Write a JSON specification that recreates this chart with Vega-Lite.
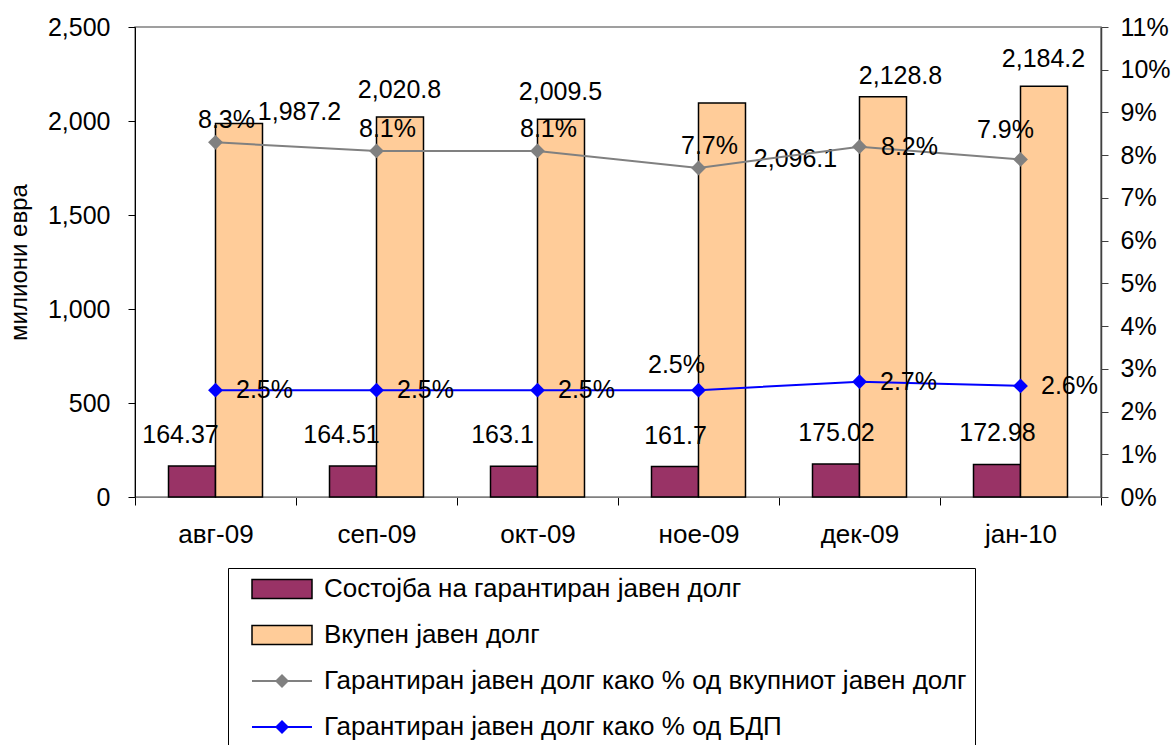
{
  "$schema": "https://vega.github.io/schema/vega-lite/v6.json",
  "width": 966,
  "height": 470,
  "autosize": {"type": "none"},
  "padding": {"left": 135, "top": 27, "right": 74, "bottom": 248},
  "background": "white",
  "config": {
    "font": "Liberation Sans",
    "view": {"stroke": "#808080", "strokeWidth": 1.5},
    "text": {"font": "Liberation Sans", "fontSize": 25, "color": "black"},
    "axis": {"labelFont": "Liberation Sans", "titleFont": "Liberation Sans", "labelColor": "black", "titleColor": "black", "grid": false},
    "legend": {"orient": "none", "direction": "vertical", "padding": 8, "labelFont": "Liberation Sans", "labelFontSize": 26, "labelLimit": 1000, "labelColor": "black", "symbolSize": 400, "symbolOffset": 33, "labelOffset": 29, "rowPadding": 20}
  },
  "data": {
    "values": [
      {"m": "авг-09", "s": "Состојба на гарантиран јавен долг", "v": 164.37},
      {"m": "сеп-09", "s": "Состојба на гарантиран јавен долг", "v": 164.51},
      {"m": "окт-09", "s": "Состојба на гарантиран јавен долг", "v": 163.1},
      {"m": "ное-09", "s": "Состојба на гарантиран јавен долг", "v": 161.7},
      {"m": "дек-09", "s": "Состојба на гарантиран јавен долг", "v": 175.02},
      {"m": "јан-10", "s": "Состојба на гарантиран јавен долг", "v": 172.98},
      {"m": "авг-09", "s": "Вкупен јавен долг", "v": 1987.2},
      {"m": "сеп-09", "s": "Вкупен јавен долг", "v": 2020.8},
      {"m": "окт-09", "s": "Вкупен јавен долг", "v": 2009.5},
      {"m": "ное-09", "s": "Вкупен јавен долг", "v": 2096.1},
      {"m": "дек-09", "s": "Вкупен јавен долг", "v": 2128.8},
      {"m": "јан-10", "s": "Вкупен јавен долг", "v": 2184.2},
      {"m": "авг-09", "s": "Гарантиран јавен долг како % од вкупниот јавен долг", "v": 0.083},
      {"m": "сеп-09", "s": "Гарантиран јавен долг како % од вкупниот јавен долг", "v": 0.081},
      {"m": "окт-09", "s": "Гарантиран јавен долг како % од вкупниот јавен долг", "v": 0.081},
      {"m": "ное-09", "s": "Гарантиран јавен долг како % од вкупниот јавен долг", "v": 0.077},
      {"m": "дек-09", "s": "Гарантиран јавен долг како % од вкупниот јавен долг", "v": 0.082},
      {"m": "јан-10", "s": "Гарантиран јавен долг како % од вкупниот јавен долг", "v": 0.079},
      {"m": "авг-09", "s": "Гарантиран јавен долг како % од БДП", "v": 0.025},
      {"m": "сеп-09", "s": "Гарантиран јавен долг како % од БДП", "v": 0.025},
      {"m": "окт-09", "s": "Гарантиран јавен долг како % од БДП", "v": 0.025},
      {"m": "ное-09", "s": "Гарантиран јавен долг како % од БДП", "v": 0.025},
      {"m": "дек-09", "s": "Гарантиран јавен долг како % од БДП", "v": 0.027},
      {"m": "јан-10", "s": "Гарантиран јавен долг како % од БДП", "v": 0.026}
    ]
  },
  "encoding": {
    "x": {
      "field": "m", "type": "nominal", "sort": null,
      "scale": {"paddingInner": 0, "paddingOuter": 0},
      "axis": {"title": null, "labelAngle": 0, "tickBand": "extent", "tickSize": 8, "tickColor": "black", "domainColor": "#808080", "labelFontSize": 26, "labelPadding": 16}
    }
  },
  "layer": [
    {
      "encoding": {
        "y": {
          "field": "v", "type": "quantitative",
          "scale": {"domain": [0, 2500], "nice": false},
          "axis": {"orient": "left", "values": [0, 500, 1000, 1500, 2000, 2500], "format": ",d", "tickSize": 7, "tickColor": "black", "domainColor": "black", "labelPadding": 18, "labelFontSize": 25, "title": "милиони евра", "titleFontSize": 24, "titleFontWeight": "normal", "titlePadding": 16}
        }
      },
      "layer": [
        {
          "transform": [{"filter": {"field": "s", "oneOf": ["Состојба на гарантиран јавен долг", "Вкупен јавен долг"]}}],
          "mark": {"type": "bar", "stroke": "black", "strokeWidth": 1.5},
          "encoding": {
            "xOffset": {"field": "s", "type": "nominal", "scale": {"domain": ["Состојба на гарантиран јавен долг", "Вкупен јавен долг"], "paddingInner": 0, "paddingOuter": 0.713}},
            "fill": {
              "field": "s", "type": "nominal",
              "scale": {"domain": ["Состојба на гарантиран јавен долг", "Вкупен јавен долг"], "range": ["#993366", "#FFCC99"]},
              "legend": {"legendX": 93, "legendY": 541, "title": null, "labelOpacity": 0, "symbolType": "M-3,-0.95H3V0.95H-3Z", "symbolStrokeColor": "black", "symbolStrokeWidth": 1.5}
            }
          }
        },
        {
          "transform": [{"filter": {"field": "s", "equal": "Состојба на гарантиран јавен долг"}}, {"filter": {"field": "m", "oneOf": ["авг-09", "сеп-09", "окт-09"]}}],
          "mark": {"type": "text", "dx": -35, "dy": -31},
          "encoding": {"text": {"field": "v", "type": "quantitative", "format": "~g"}}
        },
        {
          "transform": [{"filter": {"field": "s", "equal": "Состојба на гарантиран јавен долг"}}, {"filter": {"field": "m", "oneOf": ["ное-09", "дек-09", "јан-10"]}}],
          "mark": {"type": "text", "dx": -23, "dy": -31},
          "encoding": {"text": {"field": "v", "type": "quantitative", "format": "~g"}}
        },
        {
          "transform": [{"filter": {"field": "s", "equal": "Вкупен јавен долг"}}, {"filter": {"not": {"field": "m", "oneOf": ["авг-09", "ное-09", "дек-09"]}}}],
          "mark": {"type": "text", "dx": 23, "dy": -27},
          "encoding": {"text": {"field": "v", "type": "quantitative", "format": ",.1f"}}
        },
        {
          "transform": [{"filter": {"field": "s", "equal": "Вкупен јавен долг"}}, {"filter": {"field": "m", "equal": "авг-09"}}],
          "mark": {"type": "text", "dx": 84, "dy": -11},
          "encoding": {"text": {"field": "v", "type": "quantitative", "format": ",.1f"}}
        },
        {
          "transform": [{"filter": {"field": "s", "equal": "Вкупен јавен долг"}}, {"filter": {"field": "m", "equal": "ное-09"}}],
          "mark": {"type": "text", "dx": 97, "dy": 56},
          "encoding": {"text": {"field": "v", "type": "quantitative", "format": ",.1f"}}
        },
        {
          "transform": [{"filter": {"field": "s", "equal": "Вкупен јавен долг"}}, {"filter": {"field": "m", "equal": "дек-09"}}],
          "mark": {"type": "text", "dx": 41, "dy": -21},
          "encoding": {"text": {"field": "v", "type": "quantitative", "format": ",.1f"}}
        }
      ]
    },
    {
      "encoding": {
        "y": {
          "field": "v", "type": "quantitative",
          "scale": {"domain": [0, 0.11], "nice": false},
          "axis": {"orient": "right", "values": [0, 0.01, 0.02, 0.03, 0.04, 0.05, 0.06, 0.07, 0.08, 0.09, 0.1, 0.11], "format": ".0%", "tickSize": 7, "tickColor": "#404040", "domainColor": "#404040", "domainWidth": 1.5, "labelPadding": 12, "labelFontSize": 25, "title": null}
        }
      },
      "layer": [
        {
          "transform": [{"filter": {"field": "s", "oneOf": ["Гарантиран јавен долг како % од вкупниот јавен долг", "Гарантиран јавен долг како % од БДП"]}}],
          "mark": {"type": "line", "strokeWidth": 2},
          "encoding": {
            "stroke": {
              "field": "s", "type": "nominal",
              "scale": {"domain": ["Гарантиран јавен долг како % од вкупниот јавен долг", "Гарантиран јавен долг како % од БДП"], "range": ["#808080", "#0000FF"]},
              "legend": {"legendX": 93, "legendY": 633, "title": null, "labelOpacity": 0, "symbolType": "M-3,0H3", "symbolStrokeWidth": 2}
            }
          }
        },
        {
          "transform": [{"filter": {"field": "s", "oneOf": ["Гарантиран јавен долг како % од вкупниот јавен долг", "Гарантиран јавен долг како % од БДП"]}}],
          "mark": {"type": "point", "shape": "diamond", "filled": true, "size": 220, "opacity": 1},
          "encoding": {
            "color": {
              "field": "s", "type": "nominal",
              "scale": {"domain": ["Состојба на гарантиран јавен долг", "Вкупен јавен долг", "Гарантиран јавен долг како % од вкупниот јавен долг", "Гарантиран јавен долг како % од БДП"], "range": ["transparent", "transparent", "#808080", "#0000FF"]},
              "legend": {"legendX": 93, "legendY": 541, "title": null, "strokeColor": "black", "symbolType": "M0,-0.7L0.7,0L0,0.7L-0.7,0Z", "symbolStrokeWidth": 0, "symbolOpacity": 1}
            }
          }
        },
        {
          "transform": [{"filter": {"field": "s", "equal": "Гарантиран јавен долг како % од вкупниот јавен долг"}}, {"filter": {"not": {"field": "m", "oneOf": ["дек-09", "јан-10"]}}}],
          "mark": {"type": "text", "dx": 11, "dy": -22},
          "encoding": {"text": {"field": "v", "type": "quantitative", "format": ".1%"}}
        },
        {
          "transform": [{"filter": {"field": "s", "equal": "Гарантиран јавен долг како % од вкупниот јавен долг"}}, {"filter": {"field": "m", "equal": "дек-09"}}],
          "mark": {"type": "text", "dx": 50, "dy": 0},
          "encoding": {"text": {"field": "v", "type": "quantitative", "format": ".1%"}}
        },
        {
          "transform": [{"filter": {"field": "s", "equal": "Гарантиран јавен долг како % од вкупниот јавен долг"}}, {"filter": {"field": "m", "equal": "јан-10"}}],
          "mark": {"type": "text", "dx": -15, "dy": -29},
          "encoding": {"text": {"field": "v", "type": "quantitative", "format": ".1%"}}
        },
        {
          "transform": [{"filter": {"field": "s", "equal": "Гарантиран јавен долг како % од БДП"}}, {"filter": {"not": {"field": "m", "equal": "ное-09"}}}],
          "mark": {"type": "text", "dx": 49, "dy": 0},
          "encoding": {"text": {"field": "v", "type": "quantitative", "format": ".1%"}}
        },
        {
          "transform": [{"filter": {"field": "s", "equal": "Гарантиран јавен долг како % од БДП"}}, {"filter": {"field": "m", "equal": "ное-09"}}],
          "mark": {"type": "text", "dx": -22, "dy": -25},
          "encoding": {"text": {"field": "v", "type": "quantitative", "format": ".1%"}}
        }
      ]
    }
  ],
  "resolve": {"scale": {"y": "independent"}, "axis": {"y": "independent"}}
}
